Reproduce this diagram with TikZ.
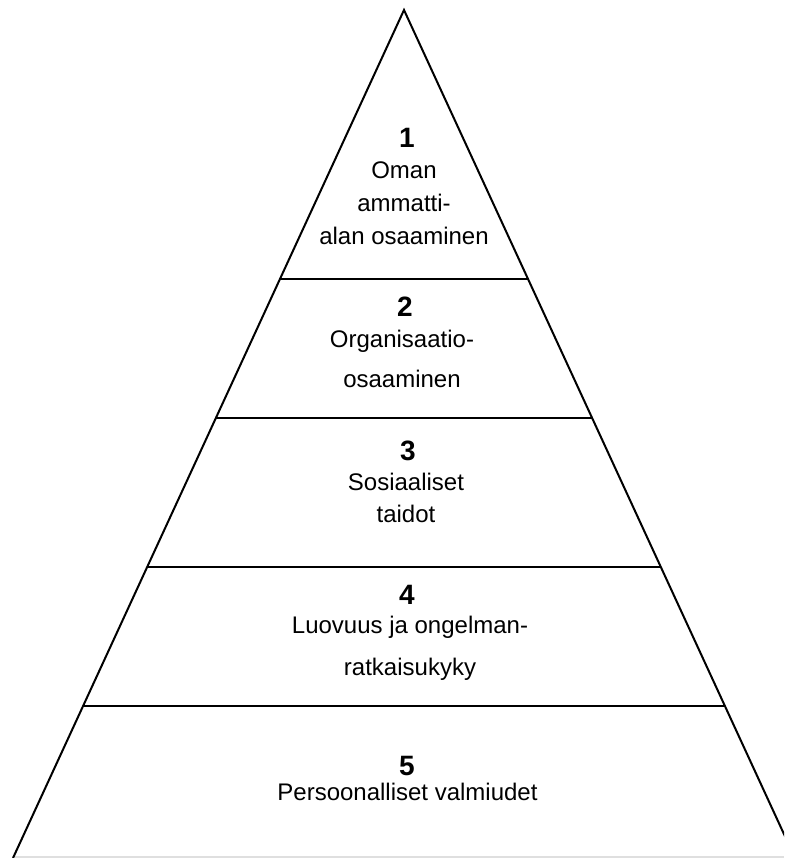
\documentclass[tikz,border=0pt]{standalone}
\usepackage{fontspec}
\setmainfont{Liberation Sans}
\tikzset{
	edge/.style={line width=1pt},
	nr/.style={font=\fontsize{14}{16}\selectfont\bfseries,inner sep=0pt,anchor=base},
	lbl/.style={font=\fontsize{12}{16}\selectfont,align=center,inner sep=0pt,anchor=north}
}
\begin{document}
\begin{tikzpicture}[x=0.5pt,y=-0.5pt]
			\useasboundingbox (0,0) rectangle (784,858);
			\clip (0,0) rectangle (784,858);
			%(x,y) in pixels, y downwards
			\coordinate (A) at (404,10);\coordinate (L) at (13,858);\coordinate (R) at (795,858);
			\draw[gray!25,line width=1pt] (13,857)--(784,857);
			\draw[edge] (L)--(A)--(R);
			\foreach \y in {279,418,567,706}
				\draw[edge] ({404-0.461*(\y-10)},\y)--({404+0.461*(\y-10)},\y);
			\node[nr] (n1) at (407,147) {1};
			\node[lbl] (t1) at (404,161) {Oman\\[0.5pt]ammatti-\\[0.5pt]alan osaaminen};
			\node[nr] (n2) at (405,316) {2};
			\node[lbl] (t2) at (402,330) {Organisaatio-\\[4pt]osaaminen};
			\node[nr] (n3) at (408,460) {3};
			\node[lbl] (t3) at (406,473) {Sosiaaliset\\taidot};
			\node[nr] (n4) at (407,604) {4};
			\node[lbl] (t4) at (410,616) {Luovuus ja ongelman-\\[5pt]ratkaisukyky};
			\node[nr] (n5) at (407,775) {5};
			\node[lbl] (t5) at (407.5,783) {Persoonalliset valmiudet};
		\end{tikzpicture}
\end{document}
